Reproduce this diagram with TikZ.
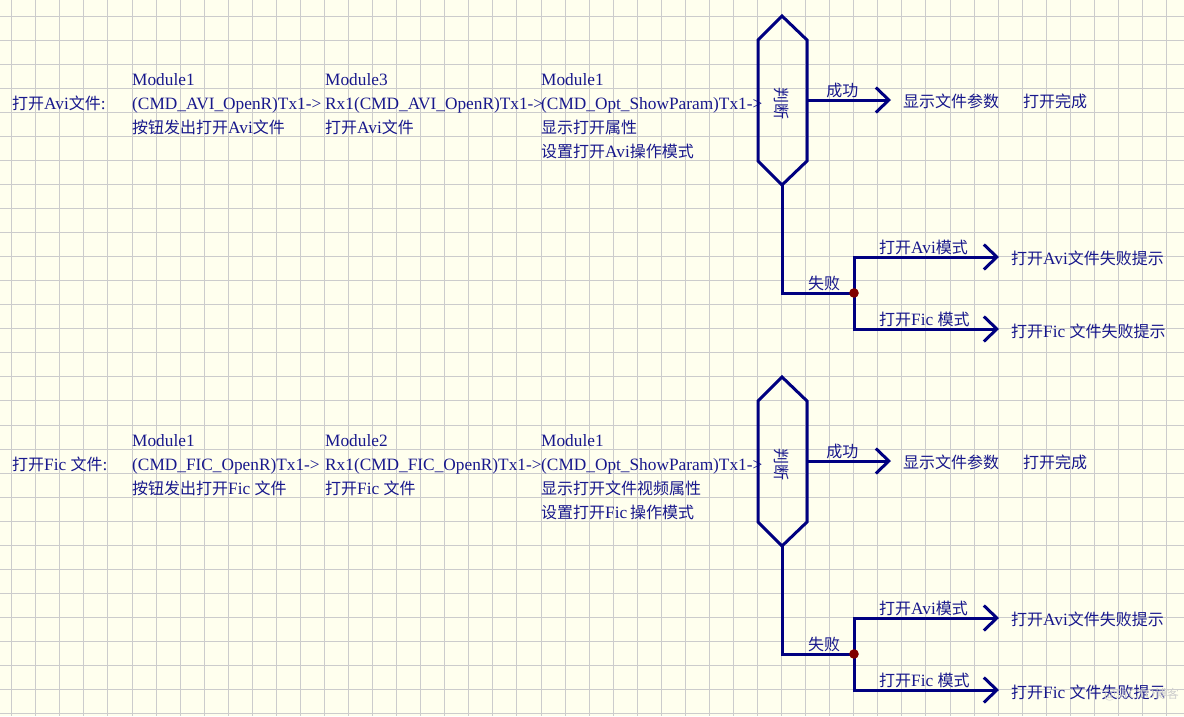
\documentclass[tikz,border=0pt]{standalone}
\usepackage{fontspec}
\setmainfont{Liberation Serif}
\newfontfamily\cjk{Noto Sans CJK SC}[Scale=0.925]
\usetikzlibrary{arrows.meta}
\definecolor{bg}{RGB}{255,255,238}
\definecolor{gridc}{RGB}{204,204,204}
\definecolor{ink}{RGB}{0,0,128}
\definecolor{txt}{RGB}{24,24,140}
\definecolor{dotc}{RGB}{128,0,0}
\definecolor{wm}{RGB}{205,205,205}
\newcommand\zh[1]{{\cjk #1}}
\newcommand\decision[1]{%
  \coordinate (ht#1) at (782,16);
  \coordinate (htr#1) at (807,40);
  \coordinate (hbr#1) at (807,161);
  \coordinate (hb#1) at (782,185);
  \coordinate (hbl#1) at (758,161);
  \coordinate (htl#1) at (758,40);
  \coordinate (hr#1) at (807,100);
  \draw[wire] (ht#1) -- (htr#1) -- (hbr#1) -- (hb#1) -- (hbl#1) -- (htl#1) -- cycle;
  \node[zlbl, anchor=center, rotate=-90] (judge#1) at (782,103) {判断};
  \node[zlbl] (ok#1) at (903,101) {显示文件参数};
  \node[zlbl] (done#1) at (1023,101) {打开完成};
  \coordinate (okt#1) at (891,100);
  \draw[arr] (hr#1) -- node[zlbl, anchor=south, pos=0.42, yshift=1pt] (succ#1) {成功} (okt#1);
  \coordinate (dot#1) at (854,293);
  \coordinate (ta#1) at (999,257);
  \coordinate (tf#1) at (999,329);
  \draw[wire] (hb#1) |- (dot#1);
  \node[zlbl] (fail#1) at (808,283.5) {失败};
  \draw[arr] (dot#1) |- (ta#1);
  \draw[arr] (dot#1) |- (tf#1);
  \fill[dotc] (dot#1) circle (4.8);
  \node[lbl] (ma#1) at (879,253) {\zh{打开}Avi\zh{模式}};
  \node[lbl] (fa#1) at (1011,264) {\zh{打开}Avi\zh{文件失败提示}};
  \node[lbl] (mf#1) at (879,325) {\zh{打开}Fic \zh{模式}};
  \node[lbl] (ff#1) at (1011,337) {\zh{打开}Fic \zh{文件失败提示}};
}
\begin{document}
\begin{tikzpicture}[x=1pt,y=-1pt,
  lbl/.style={font=\fontsize{17.3}{20}\selectfont, text=txt, inner sep=0pt, anchor=base west},
  zlbl/.style={font=\fontsize{17.3}{20}\selectfont\cjk, text=txt, inner sep=0pt, anchor=west},
  wire/.style={draw=ink, line width=3pt, line join=miter},
  arr/.style={wire, -{Straight Barb[length=13pt,width=25pt]}},
  gridline/.style={draw=gridc, line width=1pt}]
\fill[bg] (0,0) rectangle (1184,716);
\useasboundingbox (0,0) rectangle (1184,716);
\foreach \i in {0,...,48} \draw[gridline] ({11.7+24.06*\i},0) -- ({11.7+24.06*\i},716);
\foreach \j in {0,...,29} \draw[gridline] (0,{16+24.06*\j}) -- (1184,{16+24.06*\j});

% block 1
\node[lbl] (t0a) at (12,109) {\zh{打开}Avi\zh{文件}:};
\node[lbl] (m1a) at (132,85) {Module1};
\node[lbl] (c1a) at (132,109) {(CMD\_AVI\_OpenR)Tx1->};
\node[lbl] (d1a) at (132,133) {\zh{按钮发出打开}Avi\zh{文件}};
\node[lbl] (m2a) at (325,85) {Module3};
\node[lbl] (c2a) at (325,109) {Rx1(CMD\_AVI\_OpenR)Tx1->};
\node[lbl] (d2a) at (325,133) {\zh{打开}Avi\zh{文件}};
\node[lbl] (m3a) at (541,85) {Module1};
\node[lbl] (c3a) at (541,109) {(CMD\_Opt\_ShowParam)Tx1->};
\node[lbl] (d3a) at (541,133) {\zh{显示打开属性}};
\node[lbl] (e3a) at (541,157) {\zh{设置打开}Avi\zh{操作模式}};
\decision{a}

% block 2
\begin{scope}[yshift=-361pt]
\node[lbl] (t0b) at (12,109) {\zh{打开}Fic \zh{文件}:};
\node[lbl] (m1b) at (132,85) {Module1};
\node[lbl] (c1b) at (132,109) {(CMD\_FIC\_OpenR)Tx1->};
\node[lbl] (d1b) at (132,133) {\zh{按钮发出打开}Fic \zh{文件}};
\node[lbl] (m2b) at (325,85) {Module2};
\node[lbl] (c2b) at (325,109) {Rx1(CMD\_FIC\_OpenR)Tx1->};
\node[lbl] (d2b) at (325,133) {\zh{打开}Fic \zh{文件}};
\node[lbl] (m3b) at (541,85) {Module1};
\node[lbl] (c3b) at (541,109) {(CMD\_Opt\_ShowParam)Tx1->};
\node[lbl] (d3b) at (541,133) {\zh{显示打开文件视频属性}};
\node[lbl] (e3b) at (541,157) {\zh{设置打开}Fic\,\zh{操作模式}};
\decision{b}
\end{scope}

\node[font=\fontsize{13}{15}\selectfont, text=wm, inner sep=0pt, anchor=east] (wmk) at (1179,695) {@51CTO\zh{博客}};
\end{tikzpicture}
\end{document}
